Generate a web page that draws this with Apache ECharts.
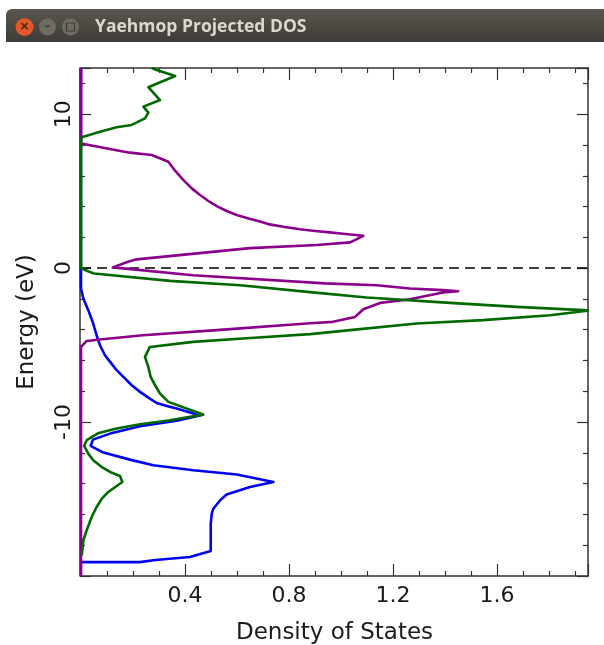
<!DOCTYPE html>
<html>
<head>
<meta charset="utf-8">
<style>html,body{margin:0;padding:0;background:#fff}#c{width:604px;height:645px}</style>
<script src="https://cdn.jsdelivr.net/npm/echarts@6/dist/echarts.min.js"></script>
</head>
<body>
<div id="c"></div>
<script>
const windowTitle = 'Yaehmop Projected DOS';
const xName = 'Density of States';
const yName = 'Energy (eV)';

const blueDos = [0,0,0,0.009,0.028,0.047,0.06,0.073,0.092,0.112,0.137,0.163,0.195,0.227,0.259,0.291,0.33,0.368,0.445,0.469,0.368,0.227,0.112,0.046,0.037,0.086,0.188,0.278,0.432,0.599,0.74,0.65,0.56,0.535,0.509,0.503,0.499,0.499,0.419,0.33,0.278,0.227,0];
const blueEnergy = [13,0,-1.32,-1.97,-2.73,-3.6,-4.36,-5.01,-5.66,-6.09,-6.63,-7.07,-7.61,-8.04,-8.41,-8.76,-8.95,-9.12,-9.51,-9.53,-9.92,-10.27,-10.75,-11.14,-11.55,-11.98,-12.44,-12.81,-13.13,-13.41,-13.89,-14.22,-14.71,-15.08,-15.63,-15.95,-16.6,-18.38,-18.77,-18.9,-18.98,-19.1,-19.1];

const purpleDos = [0,0,0.003,0.131,0.188,0.272,0.336,0.362,0.394,0.426,0.458,0.49,0.522,0.56,0.599,0.644,0.682,0.72,0.778,0.842,0.9,0.958,0.988,1.086,1.035,0.907,0.65,0.214,0.181,0.122,0.431,0.938,1.137,1.265,1.393,1.451,1.392,1.265,1.15,1.086,1.054,0.969,0.881,0.522,0.238,0.073,0.022,0,0];
const purpleEnergy = [13,8.1,8.11,7.67,7.5,7.35,6.91,6.33,5.72,5.18,4.75,4.36,4.03,3.71,3.45,3.23,3.06,2.86,2.69,2.52,2.41,2.32,2.26,2.1,1.67,1.5,1.3,0.57,0.41,0.05,-0.46,-0.99,-1.11,-1.32,-1.43,-1.5,-1.58,-2.02,-2.26,-2.67,-3.17,-3.49,-3.58,-4.03,-4.36,-4.64,-4.73,-5.12,-20];

const greenDos = [0.272,0.291,0.362,0.259,0.304,0.24,0.259,0.246,0.195,0.137,0.073,0.003,0,0,0.027,0.05,0.342,0.612,0.881,1.099,1.419,1.676,1.931,1.95,1.931,1.804,1.546,1.291,1.035,0.881,0.623,0.431,0.265,0.246,0.259,0.268,0.285,0.304,0.336,0.47,0.342,0.227,0.137,0.065,0.022,0.012,0.028,0.047,0.08,0.112,0.15,0.159,0.105,0.08,0.06,0.041,0.022,0.009,0.003];
const greenEnergy = [13,12.87,12.48,11.75,10.92,10.49,10.1,9.73,9.3,9.15,8.86,8.5,8.3,0,-0.2,-0.35,-0.83,-1.11,-1.56,-1.91,-2.26,-2.52,-2.73,-2.76,-2.8,-3.06,-3.38,-3.6,-4.03,-4.29,-4.57,-4.79,-5.12,-5.77,-6.42,-7.07,-7.61,-8.15,-8.69,-9.51,-9.88,-10.14,-10.42,-10.73,-11.18,-11.55,-12.05,-12.48,-12.92,-13.24,-13.5,-13.89,-14.54,-14.98,-15.52,-16.17,-17.03,-17.68,-18.66];

const fermiDos = [0,1.95];
const fermiEnergy = [0,0];

const zip = (a, b) => a.map((v, i) => [v, b[i]]);
const frame = '#333333';
const font = '"DejaVu Sans", sans-serif';

function xAxisOf(position, labels) {
  return {
    type: 'value', position, min: 0, max: 1.95, interval: 0.4, splitLine: {show: false},
    axisLine: {show: true, onZero: false, lineStyle: {color: frame, width: 1.5}},
    axisTick: {show: true, inside: true, length: 12, lineStyle: {color: frame, width: 1.2}},
    minorTick: {show: true, splitNumber: 4, length: 5, lineStyle: {color: frame, width: 1.2}},
    minorSplitLine: {show: false},
    axisLabel: {show: labels, showMinLabel: false, showMaxLabel: false, fontFamily: font, fontSize: 22, color: '#1a1a1a', margin: 9},
    name: labels ? xName : '', nameLocation: 'middle', nameGap: 46,
    nameTextStyle: {fontFamily: font, fontSize: 23, color: '#1a1a1a'}
  };
}
function yAxisOf(position, labels) {
  return {
    type: 'value', position, min: -20, max: 13, interval: 10, offset: labels ? 1 : 0, splitLine: {show: false},
    axisLine: {show: true, onZero: false, lineStyle: {color: frame, width: 1.5}},
    axisTick: {show: true, inside: true, length: 11, lineStyle: {color: frame, width: 1.2}},
    minorTick: {show: true, splitNumber: 5, length: 5, lineStyle: {color: frame, width: 1.2}},
    minorSplitLine: {show: false},
    axisLabel: {show: labels, rotate: 90, showMinLabel: false, showMaxLabel: false, fontFamily: font, fontSize: 22, color: '#1a1a1a', margin: 5},
    name: labels ? yName : '', nameLocation: 'middle', nameGap: 41,
    nameTextStyle: {fontFamily: font, fontSize: 23, color: '#1a1a1a'}
  };
}
function curve(name, color, xs, ys) {
  return {name, type: 'line', data: zip(xs, ys), showSymbol: false, smooth: false, animation: false,
          lineStyle: {color, width: 2.6, join: 'round'}, itemStyle: {color}};
}

const chart = echarts.init(document.getElementById('c'), null, {renderer: 'canvas'});
chart.setOption({
  animation: false,
  backgroundColor: '#ffffff',
  grid: {left: 81, right: 16, top: 68, bottom: 69, outerBoundsMode: 'none'},
  xAxis: [xAxisOf('bottom', true), xAxisOf('top', false)],
  yAxis: [yAxisOf('left', true), yAxisOf('right', false)],
  series: [
    {name: 'Fermi', type: 'line', data: zip(fermiDos, fermiEnergy), showSymbol: false, animation: false, z: 1,
     lineStyle: {color: '#000', width: 1.5, type: [10, 6]}},
    curve('Blue', '#0000f0', blueDos, blueEnergy),
    curve('Purple', '#8b008b', purpleDos, purpleEnergy),
    curve('Green', '#006a00', greenDos, greenEnergy)
  ],
  graphic: [
    {type: 'rect', shape: {x: 6, y: 9, width: 598, height: 33, r: [6, 0, 0, 0]}, silent: true,
     style: {fill: new echarts.graphic.LinearGradient(0, 0, 0, 1, [{offset: 0, color: '#5a564f'}, {offset: 1, color: '#3e3c37'}])}},
    {type: 'circle', shape: {cx: 24.5, cy: 27, r: 9}, silent: true, style: {fill: '#e2582a'}},
    {type: 'circle', shape: {cx: 47.5, cy: 27, r: 8.5}, silent: true, style: {fill: '#6f6c64'}},
    {type: 'circle', shape: {cx: 70.5, cy: 27, r: 8.5}, silent: true, style: {fill: '#6f6c64'}},
    {type: 'text', x: 24.5, y: 27, silent: true, style: {text: '×', fill: '#4a2414', font: 'bold 12px ' + font, align: 'center', verticalAlign: 'middle'}},
    {type: 'text', x: 47.5, y: 27, silent: true, style: {text: '–', fill: '#3e3c37', font: 'bold 12px ' + font, align: 'center', verticalAlign: 'middle'}},
    {type: 'rect', shape: {x: 66.5, y: 23, width: 8, height: 8}, silent: true, style: {fill: 'none', stroke: '#3e3c37', lineWidth: 1.2}},
    {type: 'text', x: 95, y: 27, silent: true, style: {text: windowTitle, fill: '#dcd9cc', font: 'bold 17.5px "Open Sans", sans-serif', verticalAlign: 'middle'}}
  ]
});
</script>
</body>
</html>
